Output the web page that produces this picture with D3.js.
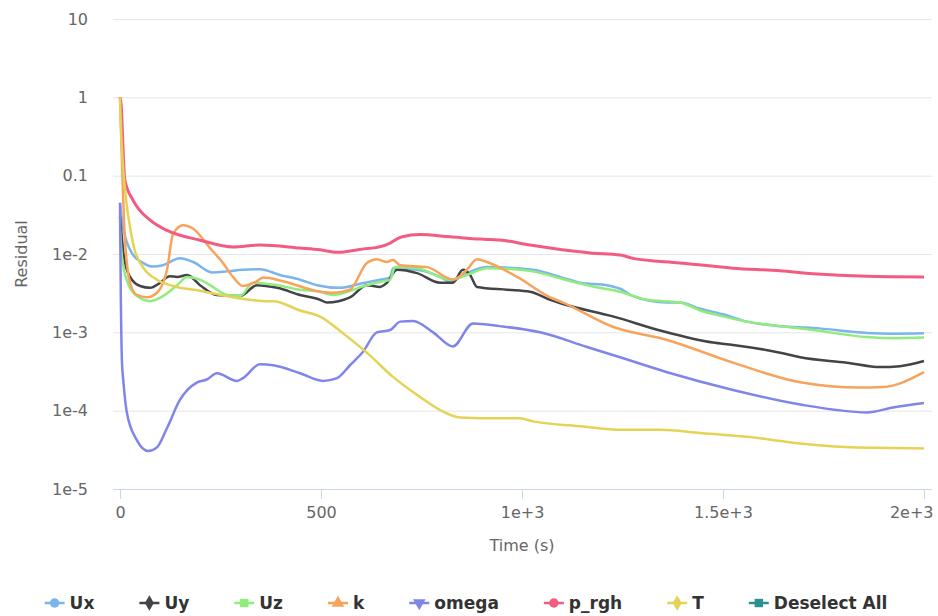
<!DOCTYPE html>
<html>
<head>
<meta charset="utf-8">
<script src="https://cdn.jsdelivr.net/npm/d3@7"></script>
<style>
  body { margin: 0; background: #fff; }
  svg { display: block; }
</style>
</head>
<body>
<svg id="chart" width="938" height="616"></svg>
<script>
// Residual history of the solver fields, log scale
const timeTicks = [0, 500, 1000, 1500, 2000];
const timeTickLabels = ["0", "500", "1e+3", "1.5e+3", "2e+3"];
const residualTicks = [10, 1, 0.1, 0.01, 0.001, 1e-4, 1e-5];
const residualTickLabels = ["10", "1", "0.1", "1e-2", "1e-3", "1e-4", "1e-5"];

const seriesNames = ["Ux", "Uy", "Uz", "k", "omega", "p_rgh", "T"];

// [time (s), residual]
const Ux = [[0,0.045],[5,0.027],[30,0.0102],[57,0.0077],[82,0.0069],[107,0.0072],[149,0.0088],[182,0.0079],[231,0.0058],[266,0.006],[306,0.0063],[348,0.0064],[398,0.0054],[448,0.0047],[490,0.0040],[547,0.0037],[600,0.0042],[647,0.0047],[672,0.0050],[679,0.0066],[739,0.0063],[800,0.0050],[821,0.0044],[863,0.0057],[913,0.0068],[1027,0.0063],[1100,0.005],[1144,0.0043],[1211,0.0040],[1244,0.0036],[1276,0.0029],[1361,0.0024],[1393,0.0024],[1443,0.0020],[1500,0.0017],[1560,0.00137],[1642,0.0012],[1724,0.00114],[1858,0.00098],[1923,0.00096],[2000,0.00097]];
const Uy = [[0,0.03],[10,0.009],[25,0.0051],[50,0.0039],[75,0.0037],[100,0.0043],[124,0.0052],[142,0.0051],[167,0.0054],[199,0.0040],[241,0.0030],[299,0.0029],[341,0.0040],[391,0.0037],[448,0.0030],[498,0.0026],[515,0.0024],[572,0.0028],[614,0.0040],[647,0.0038],[664,0.0043],[689,0.0063],[739,0.0057],[796,0.0043],[828,0.0043],[853,0.0063],[871,0.0054],[888,0.0038],[963,0.0035],[1020,0.0033],[1070,0.0026],[1102,0.0023],[1226,0.0016],[1351,0.00103],[1475,0.00074],[1525,0.00069],[1642,0.00055],[1692,0.00048],[1808,0.00041],[1891,0.00036],[1940,0.00037],[2000,0.00043]];
const Uz = [[0,0.02],[5,0.009],[20,0.0042],[42,0.0029],[75,0.0025],[107,0.0029],[142,0.0040],[167,0.0051],[199,0.0047],[224,0.0040],[266,0.0030],[299,0.0029],[331,0.0043],[391,0.0040],[448,0.0035],[498,0.0033],[530,0.0030],[614,0.0040],[647,0.0044],[672,0.0047],[684,0.0068],[739,0.0066],[821,0.0047],[863,0.0054],[913,0.0066],[1027,0.0060],[1100,0.0048],[1144,0.0042],[1194,0.0037],[1244,0.0033],[1311,0.0026],[1393,0.0024],[1443,0.0019],[1500,0.0016],[1560,0.00137],[1642,0.0012],[1724,0.00107],[1858,0.00087],[1923,0.00084],[2000,0.00086]];
const k = [[0,1.0],[3,0.3],[8,0.05],[12,0.0165],[25,0.0043],[42,0.0030],[67,0.0028],[92,0.0032],[117,0.0063],[132,0.018],[157,0.0233],[182,0.021],[224,0.0119],[256,0.0077],[281,0.0051],[306,0.0039],[341,0.0045],[356,0.0050],[405,0.0045],[498,0.0033],[530,0.0032],[572,0.0035],[614,0.0077],[639,0.0086],[664,0.0079],[679,0.0084],[697,0.0072],[764,0.0068],[828,0.0047],[863,0.0063],[888,0.0086],[913,0.0079],[988,0.0051],[1070,0.0028],[1102,0.0024],[1226,0.00118],[1361,0.0008],[1525,0.00041],[1692,0.00023],[1841,0.000197],[1898,0.0002],[2000,0.00031]];
const omega = [[0,0.045],[2,0.003],[5,0.0004],[8,0.00025],[17,9.5e-5],[42,4.2e-5],[70,3.05e-5],[92,3.4e-5],[117,6.0e-5],[149,1.37e-4],[192,2.3e-4],[216,2.5e-4],[241,3.0e-4],[291,2.4e-4],[306,2.6e-4],[348,3.9e-4],[381,3.8e-4],[448,3.0e-4],[505,2.4e-4],[540,2.6e-4],[572,3.8e-4],[604,5.6e-4],[639,1.0e-3],[672,1.07e-3],[697,1.37e-3],[729,1.4e-3],[779,1.0e-3],[828,6.6e-4],[878,1.3e-3],[945,1.2e-3],[1045,1.0e-3],[1162,6.5e-4],[1244,4.8e-4],[1361,3.1e-4],[1525,1.84e-4],[1692,1.2e-4],[1858,9.5e-5],[1923,1.1e-4],[2000,1.25e-4]];
const p_rgh = [[0,1.0],[3,0.8],[5,0.47],[12,0.088],[32,0.049],[75,0.027],[117,0.020],[199,0.015],[281,0.0123],[348,0.013],[448,0.0119],[498,0.0113],[540,0.0105],[600,0.0115],[650,0.0125],[672,0.0138],[700,0.0165],[746,0.0177],[821,0.0166],[896,0.0155],[945,0.0151],[1020,0.013],[1070,0.0119],[1170,0.0103],[1244,0.0097],[1276,0.0088],[1393,0.0077],[1525,0.0066],[1642,0.0061],[1724,0.0056],[1858,0.0052],[2000,0.0051]];
const T = [[0,1.0],[3,0.35],[8,0.12],[15,0.05],[25,0.022],[35,0.012],[57,0.0068],[92,0.0047],[132,0.0039],[199,0.0034],[281,0.0028],[366,0.0025],[381,0.0025],[448,0.0019],[498,0.00159],[555,0.00097],[614,0.00055],[679,0.00027],[746,0.00015],[796,0.000102],[846,8.2e-5],[945,8.0e-5],[995,8.0e-5],[1027,7.3e-5],[1152,6.3e-5],[1244,5.7e-5],[1343,5.7e-5],[1443,5.2e-5],[1567,4.6e-5],[1692,3.8e-5],[1816,3.4e-5],[2000,3.3e-5]];

const seriesData = [Ux, Uy, Uz, k, omega, p_rgh, T];
const colors = ["#7cb5ec", "#434348", "#90ed7d", "#f7a35c", "#8085e9", "#f15c80", "#e4d354", "#2b908f"];
const legendNames = [...seriesNames, "Deselect All"];
const symbols = [d3.symbolCircle, d3.symbolDiamond, d3.symbolSquare, d3.symbolTriangle, "triangle-down", d3.symbolCircle, d3.symbolDiamond, d3.symbolSquare];

const svg = d3.select("#chart");
const font = "'DejaVu Sans', sans-serif";
const plotLeft = 113, plotRight = 932;

const x = d3.scaleLinear().domain([0, 2000]).range([120, 924]);
const y = d3.scaleLog().domain([1e-5, 10]).range([489, 19]);

// horizontal grid and y labels
const yAxis = d3.axisLeft(y)
  .tickValues(residualTicks)
  .tickFormat((d, i) => residualTickLabels[i])
  .tickSize(-(plotRight - plotLeft))
  .tickPadding(25);
const gy = svg.append("g").attr("transform", `translate(${plotLeft},0)`).call(yAxis);
gy.select(".domain").remove();
gy.selectAll(".tick line").attr("stroke", "#e6e6e6").attr("stroke-width", 1);
gy.selectAll(".tick text").attr("fill", "#666").style("font-family", font).style("font-size", "16px");

// x axis
svg.append("line").attr("x1", plotLeft).attr("x2", plotRight).attr("y1", 489.5).attr("y2", 489.5)
  .attr("stroke", "#ccd6eb");
const xAxis = d3.axisBottom(x)
  .tickValues(timeTicks)
  .tickFormat((d, i) => timeTickLabels[i])
  .tickSize(10)
  .tickPadding(8);
const gx = svg.append("g").attr("transform", "translate(0,489)").call(xAxis);
gx.select(".domain").remove();
gx.selectAll(".tick line").attr("stroke", "#ccd6eb");
gx.selectAll(".tick text").attr("fill", "#666").style("font-family", font).style("font-size", "16px");
// keep the last label inside the chart edge
gx.selectAll(".tick text").filter(d => d === 2000)
  .attr("text-anchor", "end").attr("x", plotRight + 1 - x(2000));

// axis titles
svg.append("text").attr("x", x(1000)).attr("y", 551).attr("text-anchor", "middle")
  .attr("fill", "#666").style("font-family", font).style("font-size", "16px").text("Time (s)");
svg.append("text").attr("transform", `translate(27,${y(0.01)}) rotate(-90)`).attr("text-anchor", "middle")
  .attr("fill", "#666").style("font-family", font).style("font-size", "16px").text("Residual");

// series lines
const line = d3.line().x(d => x(d[0])).y(d => y(d[1])).curve(d3.curveMonotoneX);
svg.append("defs").append("clipPath").attr("id", "plot-clip")
  .append("rect").attr("x", plotLeft).attr("y", 10).attr("width", plotRight - plotLeft).attr("height", 480);
const lines = svg.append("g").attr("clip-path", "url(#plot-clip)");
seriesData.forEach((data, i) => {
  lines.append("path").datum(data)
    .attr("fill", "none")
    .attr("stroke", colors[i])
    .attr("stroke-width", seriesNames[i] === "p_rgh" ? 3 : 2.5)
    .attr("stroke-linejoin", "round")
    .attr("d", line);
});

// legend
function symbolPath(s, size) {
  if (s === "triangle-down") {
    return d3.symbol().type(d3.symbolTriangle).size(size)();
  }
  return d3.symbol().type(s).size(size)();
}
const legend = svg.append("g");
const items = legend.selectAll("g").data(legendNames).join("g");
items.append("line").attr("x1", 0).attr("x2", 20).attr("y1", 0).attr("y2", 0)
  .attr("stroke", (d, i) => colors[i]).attr("stroke-width", 2.5);
items.append("path")
  .attr("transform", (d, i) => symbols[i] === "triangle-down" ? "translate(10,0) rotate(180)" : "translate(10,0)")
  .attr("d", (d, i) => symbolPath(symbols[i], 70))
  .attr("fill", (d, i) => colors[i]);
items.append("text").attr("x", 25).attr("dy", "0.35em")
  .attr("fill", "#333").style("font-family", font).style("font-size", "17px").style("font-weight", "bold")
  .text(d => d);
const itemGap = 45;
const widths = [];
items.each(function () {
  widths.push(25 + this.querySelector("text").getComputedTextLength());
});
const total = d3.sum(widths) + itemGap * (widths.length - 1);
let cursor = 466 - total / 2;
items.attr("transform", (d, i) => {
  const tx = cursor;
  cursor += widths[i] + itemGap;
  return `translate(${tx},603)`;
});
</script>
</body>
</html>
